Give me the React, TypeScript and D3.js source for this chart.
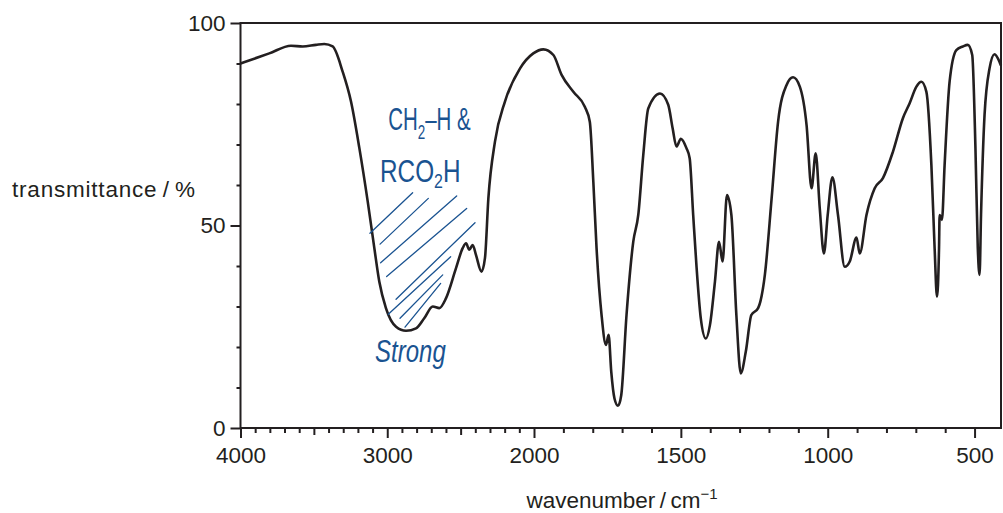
import { useEffect, useRef } from "react";
import * as d3 from "d3";

// IR spectrum (wavenumber / cm-1, transmittance / %)
const wavenumbers = [
  4000, 3804, 3656, 3576, 3486, 3429, 3372, 3304, 3247, 3190, 3133, 3088, 3054,
  3009, 2940, 2872, 2804, 2748, 2690, 2645, 2600, 2532, 2486, 2463, 2441, 2418,
  2395, 2358, 2334, 2311, 2266, 2198, 2095, 2005, 1968, 1934, 1906, 1866, 1827,
  1810, 1798, 1787, 1770, 1755, 1746, 1737, 1726, 1714, 1703, 1685, 1662, 1645,
  1628, 1611, 1571, 1543, 1528, 1515, 1500, 1481, 1470, 1458, 1447, 1432, 1415,
  1401, 1384, 1370, 1358, 1343, 1328, 1311, 1296, 1279, 1260, 1237, 1214, 1191,
  1169, 1140, 1118, 1095, 1072, 1055, 1041, 1027, 1013, 1000, 984, 965, 942, 925,
  902, 891, 868, 840, 812, 778, 744, 721, 698, 681, 664, 647, 636, 628, 621, 619,
  611, 602, 585, 562, 540, 523, 508, 497, 489, 483, 478, 466, 449, 432, 415, 410,
];
const transmittance = [
  90.0, 92.5, 94.4, 94.2, 94.6, 94.8, 94.2, 88.0, 80.6, 69.1, 55.9, 44.4, 36.1,
  29.6, 25.0, 24.0, 24.6, 27.1, 30.0, 29.6, 32.0, 39.4, 44.4, 45.6, 44.0, 45.2,
  42.7, 38.6, 42.0, 56.7, 70.7, 80.6, 88.8, 92.5, 93.5, 92.1, 87.2, 83.0, 79.3,
  75.6, 60.8, 44.4, 27.9, 20.5, 23.0, 13.9, 7.3, 5.5, 8.1, 27.9, 46.0, 52.6,
  67.4, 78.9, 82.6, 79.8, 74.0, 69.5, 71.4, 69.1, 66.6, 52.6, 40.2, 27.0, 22.1,
  25.4, 36.1, 46.0, 41.1, 57.5, 52.6, 27.9, 13.5, 18.8, 27.9, 29.6, 37.8, 56.7,
  75.6, 84.7, 86.6, 84.3, 74.8, 59.2, 67.8, 54.2, 43.1, 52.6, 61.9, 52.6, 39.8, 41.1,
  47.0, 43.1, 52.6, 59.2, 61.7, 68.2, 76.5, 80.2, 84.3, 85.5, 83.0, 64.9, 44.4, 32.4, 44.4, 52.6,
  51.4, 64.9, 85.5, 93.3, 94.2, 94.6, 92.1, 69.1, 44.4, 37.8, 52.6, 77.3, 88.8, 92.3, 90.4, 89.5,
];

const xMajorTicks = [4000, 3000, 2000, 1500, 1000, 500];
const xMidTicks = [3500, 2500];
const yMajorTicks = [0, 50, 100];

// handwritten hatching, endpoints in (wavenumber, %)
const hatchStart = [
  [3118, 48.1], [3049, 45.4], [3045, 40.8], [3004, 37.4],
  [2940, 31.8], [2993, 28.1], [2913, 27.1], [2879, 24.9],
];
const hatchEnd = [
  [2827, 58.1], [2720, 56.7], [2527, 57.3], [2459, 54.2],
  [2402, 50.7], [2568, 42.3], [2622, 37.8], [2636, 35.7],
];

export default function App() {
  const svgRef = useRef<SVGSVGElement | null>(null);

  useEffect(() => {
    const width = 1003;
    const height = 513;
    const ink = "#231f20";
    const pen = "#1a5391";
    const font = "Liberation Sans, Arial, sans-serif";

    // the spectrum uses a doubled scale below 2000 cm-1
    const x = d3.scaleLinear().domain([4000, 2000, 410]).range([240.5, 534, 1001]);
    const y = d3.scaleLinear().domain([0, 100]).range([428, 23]);

    const svg = d3.select(svgRef.current);
    svg.selectAll("*").remove();
    svg.attr("width", width).attr("height", height);

    const data = wavenumbers.map((w, i) => ({ w, t: transmittance[i] }));

    // minor ticks every 100 cm-1 and every 10 %
    const xMinor = d3.range(500, 4001, 100).filter((v) => !xMajorTicks.includes(v) && !xMidTicks.includes(v));
    svg
      .append("g")
      .attr("transform", `translate(0,${y(0)})`)
      .call(d3.axisBottom(x).tickValues(xMinor).tickSize(5).tickFormat(() => ""));
    svg
      .append("g")
      .attr("transform", `translate(0,${y(0)})`)
      .call(d3.axisBottom(x).tickValues(xMidTicks).tickSize(7).tickFormat(() => ""));
    svg
      .append("g")
      .attr("transform", `translate(0,${y(0)})`)
      .call(d3.axisBottom(x).tickValues(xMajorTicks).tickSize(10).tickPadding(9.5).tickFormat(d3.format("d")));

    const yMinor = d3.range(0, 101, 10).filter((v) => !yMajorTicks.includes(v));
    svg
      .append("g")
      .attr("transform", `translate(${x(4000)},0)`)
      .call(d3.axisLeft(y).tickValues(yMinor).tickSize(4).tickFormat(() => ""));
    svg
      .append("g")
      .attr("transform", `translate(${x(4000)},0)`)
      .call(d3.axisLeft(y).tickValues(yMajorTicks).tickSize(10).tickPadding(5).tickFormat(d3.format("d")));

    svg.selectAll("path.domain").remove();
    svg.selectAll(".tick line").attr("stroke", ink).attr("stroke-width", 2);
    svg
      .selectAll(".tick text")
      .attr("fill", ink)
      .attr("font-family", font)
      .attr("font-size", "22.5px");

    // frame
    svg
      .append("rect")
      .attr("x", x(4000))
      .attr("y", y(100))
      .attr("width", x(410) - x(4000))
      .attr("height", y(0) - y(100))
      .attr("fill", "none")
      .attr("stroke", ink)
      .attr("stroke-width", 2);

    // spectrum
    const line = d3
      .line<{ w: number; t: number }>()
      .x((d) => x(d.w))
      .y((d) => y(d.t))
      .curve(d3.curveMonotoneX);

    svg
      .append("path")
      .datum(data)
      .attr("fill", "none")
      .attr("stroke", ink)
      .attr("stroke-width", 2.6)
      .attr("stroke-linejoin", "round")
      .attr("d", line);

    // axis titles
    svg
      .append("text")
      .attr("x", 12)
      .attr("y", 197)
      .attr("fill", ink)
      .attr("font-family", font)
      .attr("font-size", "22.5px")
      .attr("textLength", 183)
      .text("transmittance\u2009/\u2009%");

    svg
      .append("text")
      .attr("x", 622)
      .attr("y", 508)
      .attr("text-anchor", "middle")
      .attr("fill", ink)
      .attr("font-family", font)
      .attr("font-size", "22.5px")
      .call((t) => {
        t.append("tspan").text("wavenumber\u2009/\u2009cm");
        t.append("tspan").attr("dy", -9).attr("font-size", "15px").text("\u22121");
      });

    // hand annotations
    const hand = svg.append("g").attr("fill", pen).attr("stroke", "none");

    hand
      .selectAll("line")
      .data(hatchStart.map((s, i) => [s, hatchEnd[i]]))
      .join("line")
      .attr("x1", (d) => x(d[0][0]))
      .attr("y1", (d) => y(d[0][1]))
      .attr("x2", (d) => x(d[1][0]))
      .attr("y2", (d) => y(d[1][1]))
      .attr("stroke", pen)
      .attr("stroke-width", 1.3)
      .attr("stroke-linecap", "round");

    const handFont = "Liberation Sans Narrow, Liberation Sans, sans-serif";
    // narrow, tall handwriting: squeeze each note horizontally
    const note = (w: number, t: number, sx: number) =>
      hand
        .append("text")
        .attr("transform", `translate(${x(w)},${y(t)}) scale(${sx},1)`)
        .attr("font-family", handFont)
        .attr("font-size", "32px");

    const note1 = note(2994, 73.6, 0.64);
    note1.append("tspan").text("CH");
    note1.append("tspan").attr("dy", 9).attr("font-size", "21px").text("2");
    note1.append("tspan").attr("dy", -9).text("\u2013H &");

    const note2 = note(3049, 60.8, 0.76);
    note2.append("tspan").text("RCO");
    note2.append("tspan").attr("dy", 6).attr("font-size", "21px").text("2");
    note2.append("tspan").attr("dy", -6).text("H");

    note(3083, 16.3, 0.75).attr("font-style", "italic").text("Strong");
  }, []);

  return (
    <div style={{ position: "absolute", left: 0, top: 0, background: "#fff" }}>
      <svg ref={svgRef}></svg>
    </div>
  );
}
